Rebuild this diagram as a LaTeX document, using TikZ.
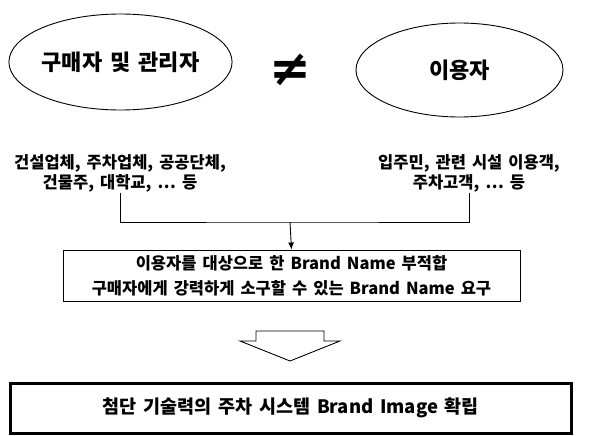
\documentclass[tikz,border=0pt]{standalone}
\usepackage{fontspec}
\setmainfont{Noto Sans CJK KR}[WordSpace=1.6]
\newfontfamily\symfont{DejaVu Sans}
\usetikzlibrary{shapes.geometric,arrows.meta}
\begin{document}
\begin{tikzpicture}[x=1pt,y=-1pt,
  oval/.style={ellipse,draw,line width=0.9pt,inner sep=0pt,font=\bfseries\fontsize{22}{26}\selectfont},
  lbl/.style={align=center,inner sep=1pt,font=\bfseries\fontsize{16.5}{20}\selectfont},
  msgbox/.style={draw,line width=0.9pt,align=center,inner sep=0pt,font=\bfseries\fontsize{16.5}{25}\selectfont},
  finalbox/.style={draw,line width=3.5pt,align=center,inner sep=0pt,font=\bfseries\fontsize{18.5}{22}\selectfont},
  conn/.style={line width=0.9pt},
  hollow/.style={draw,line width=0.9pt,line join=miter}]
\useasboundingbox (0,0) rectangle (600,436);
\node[oval,minimum width=207pt,minimum height=96pt] (e1) at (120.5,62) {구매자 및 관리자};
\node[font=\symfont\bfseries\fontsize{50}{50}\selectfont,inner sep=0pt] (ne) at (290,70) {≠};
\node[oval,minimum width=207pt,minimum height=94pt] (e2) at (459.5,70) {이용자};
\node[lbl] (t1) at (120,173) {건설업체, 주차업체, 공공단체,\\건물주, 대학교, … 등};
\node[lbl] (t2) at (469,173) {입주민, 관련 시설 이용객,\\주차고객, … 등};
\coordinate (j) at (290,222);
\node[msgbox,minimum width=457pt,minimum height=51pt] (b1) at (291.5,275.5) {이용자를 대상으로 한 Brand Name 부적합\\구매자에게 강력하게 소구할 수 있는 Brand Name 요구};
\draw[conn] (t1.south) |- (j) -| (t2.south);
\draw[conn,-{Latex[length=7pt,width=6pt]}] (j) -- (b1.north);
\draw[hollow] (256,331) -- (324,331) -- (324,341) -- (340,341) -- (290,361) -- (240,341) -- (256,341) -- cycle;
\node[finalbox,minimum width=561pt,minimum height=50pt] (b2) at (290.8,408.3) {첨단 기술력의 주차 시스템 Brand Image 확립};
\end{tikzpicture}
\end{document}
